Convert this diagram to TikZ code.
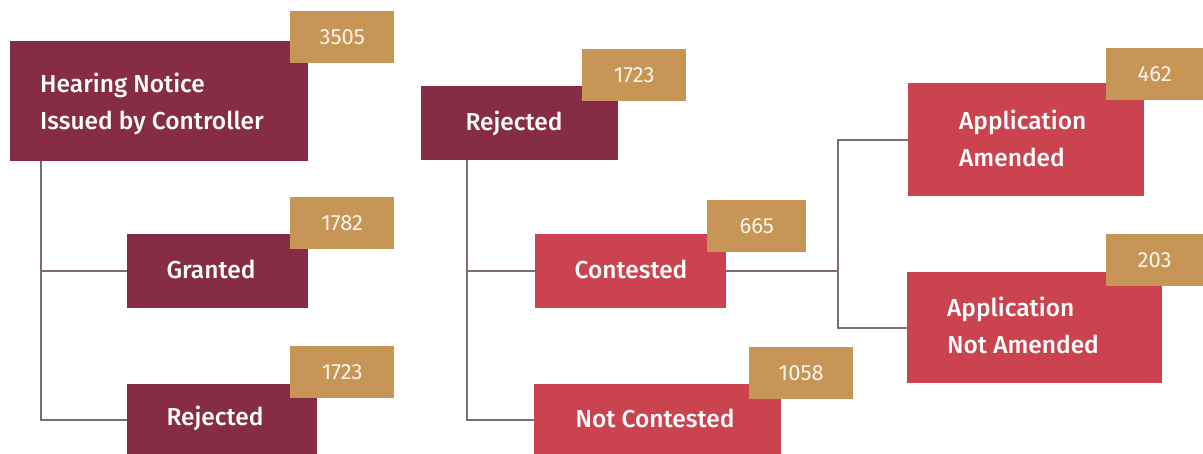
\documentclass[tikz,border=0pt]{standalone}
\usepackage{fontspec}
\setmainfont{Fira Sans}[BoldFont={Fira Sans Medium}]
\definecolor{darkred}{HTML}{862C44}
\definecolor{brightred}{HTML}{CB434E}
\definecolor{gold}{HTML}{C79556}
\definecolor{connc}{HTML}{7F6B78}
\definecolor{numc}{HTML}{FBF4EA}
\tikzset{
  box/.style={rectangle, inner sep=0pt, anchor=north west, draw=none},
  darkbox/.style={box, fill=darkred},
  redbox/.style={box, fill=brightred},
  badge/.style={box, fill=gold, minimum width=104pt, minimum height=52pt,
    text=numc, font=\fontsize{22}{26}\selectfont},
  lbl/.style={text=white, font=\fontsize{24.5}{37}\selectfont\bfseries, inner sep=0pt, align=left},
  conn/.style={draw=connc, line width=2pt}
}
\begin{document}
\begin{tikzpicture}[x=1pt,y=-1pt]
\useasboundingbox (0,0) rectangle (1203,454);
% boxes
\node[darkbox, minimum width=298pt, minimum height=120pt] (hn) at (10,41) {};
\node[darkbox, minimum width=181pt, minimum height=74pt] (gr) at (127,234) {};
\node[darkbox, minimum width=190pt, minimum height=72pt] (rl) at (127,384) {};
\node[darkbox, minimum width=197pt, minimum height=74pt] (rm) at (421,86) {};
\node[redbox, minimum width=191pt, minimum height=74pt] (co) at (535,234) {};
\node[redbox, minimum width=247pt, minimum height=72pt] (nc) at (534,384) {};
\node[redbox, minimum width=236pt, minimum height=113pt] (aa) at (908,83) {};
\node[redbox, minimum width=255pt, minimum height=111pt] (an) at (907,272) {};
% connectors
\coordinate (lt) at ([xshift=31pt]hn.south west);
\draw[conn] (lt) |- (gr.west);
\draw[conn] (lt) |- (rl.west);
\coordinate (mt) at ([xshift=46pt]rm.south west);
\draw[conn] (mt) |- (co.west);
\draw[conn] (mt) |- (nc.west);
\draw[conn] (co.east) -- ++(112,0) coordinate (j);
\draw[conn] (j) |- (aa.west);
\draw[conn] (j) |- (an.west);
% labels
\node[lbl, anchor=west] (thn) at ([xshift=30pt,yshift=-3pt]hn.west) {Hearing Notice\\Issued by Controller};
\node[lbl] (tgr) at (211,269) {Granted};
\node[lbl] (trl) at (215,418) {Rejected};
\node[lbl] (trm) at (514,123) {Rejected};
\node[lbl] (tco) at (631,269) {Contested};
\node[lbl] (tnc) at (655,418) {Not Contested};
\node[lbl, anchor=west] (taa) at ([xshift=51pt,yshift=1pt]aa.west) {Application\\Amended};
\node[lbl, anchor=west] (tan) at ([xshift=40pt,yshift=2pt]an.west) {Application\\Not Amended};
% badges
\node[badge] (b1) at (290,11) {3505};
\node[badge] (b2) at (290,197) {1782};
\node[badge] (b3) at (290,346) {1723};
\node[badge] (b4) at (582,49) {1723};
\node[badge, minimum width=99pt] (b5) at (707,200) {665};
\node[badge] (b6) at (749,347) {1058};
\node[badge, minimum width=97pt] (b7) at (1106,48) {462};
\node[badge, minimum width=97pt] (b8) at (1106,234) {203};
\end{tikzpicture}
\end{document}
